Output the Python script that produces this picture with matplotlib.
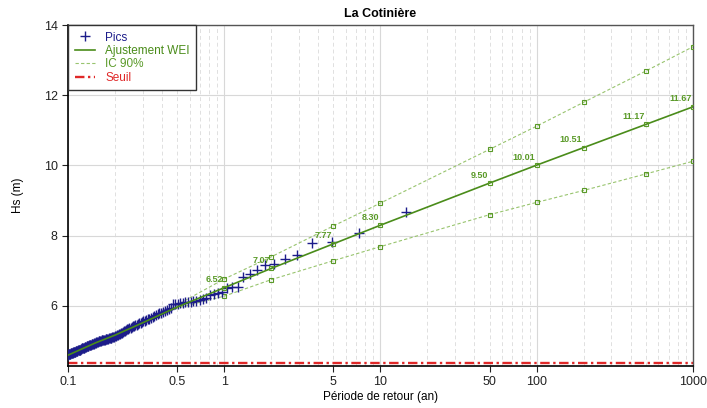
import matplotlib
matplotlib.use("Agg")
import matplotlib.pyplot as plt
from matplotlib.ticker import FixedLocator, NullFormatter, FixedFormatter
import numpy as np

plt.rcParams['font.family'] = ['Liberation Sans', 'DejaVu Sans']

# ---- data ----
n_years = 14.6
pics = [8.68, 8.09, 7.81, 7.80, 7.44, 7.34, 7.19, 7.17, 7.02, 6.90,
        6.83, 6.55, 6.55, 6.50, 6.41, 6.37, 6.34, 6.31, 6.22, 6.20,
        6.17, 6.15, 6.13, 6.12, 6.11, 6.10, 6.09, 6.08, 6.07, 6.06,
        6.05, 5.94, 5.91, 5.89, 5.87, 5.84, 5.81, 5.79, 5.76, 5.74,
        5.72, 5.70, 5.67, 5.64, 5.62, 5.60, 5.58, 5.56, 5.54, 5.52,
        5.51, 5.49, 5.47, 5.45, 5.43, 5.42, 5.40, 5.38, 5.37, 5.35,
        5.34, 5.32, 5.30, 5.28, 5.26, 5.24, 5.22, 5.20, 5.19, 5.17,
        5.16, 5.15, 5.14, 5.13, 5.12, 5.11, 5.10, 5.10, 5.09, 5.08,
        5.07, 5.07, 5.06, 5.05, 5.04, 5.04, 5.03, 5.02, 5.02, 5.01,
        5.00, 5.00, 4.99, 4.98, 4.98, 4.97, 4.96, 4.95, 4.94, 4.93,
        4.92, 4.92, 4.91, 4.90, 4.89, 4.89, 4.88, 4.87, 4.86, 4.86,
        4.85, 4.84, 4.83, 4.82, 4.81, 4.81, 4.80, 4.79, 4.79, 4.78,
        4.77, 4.76, 4.76, 4.75, 4.74, 4.74, 4.73, 4.72, 4.71, 4.71,
        4.70, 4.70, 4.69, 4.68, 4.68, 4.67, 4.66, 4.66, 4.65, 4.65,
        4.64, 4.64, 4.63, 4.63, 4.62, 4.61]
ranks = np.arange(1, len(pics) + 1)
pics_T = n_years / ranks

fit_T = [0.1, 0.15, 0.2, 0.3, 0.5, 1, 2, 5, 10, 50, 100, 200, 500, 1000]
fit_val = [4.60, 4.95, 5.17, 5.52, 5.97, 6.52, 7.07, 7.77, 8.30, 9.50, 10.01, 10.51, 11.17, 11.67]

mark_T = [1, 2, 5, 10, 50, 100, 200, 500, 1000]
mark_val = [6.52, 7.07, 7.77, 8.30, 9.50, 10.01, 10.51, 11.17, 11.67]

ci_T = [0.45, 1, 2, 5, 10, 50, 100, 200, 500, 1000]
ci_up = [5.92, 6.77, 7.40, 8.28, 8.93, 10.46, 11.12, 11.80, 12.69, 13.38]
ci_lo = [5.89, 6.28, 6.75, 7.29, 7.69, 8.60, 8.95, 9.29, 9.76, 10.12]

seuil = 4.37

xticks = [0.1, 0.5, 1, 5, 10, 50, 100, 1000]
xtick_labels = ['0.1', '0.5', '1', '5', '10', '50', '100', '1000']
yticks = [6, 8, 10, 12, 14]

# ---- colours ----
c_pics = '#1c1c8a'
c_fit = '#4a8c1a'
c_ci = '#98c46e'
c_lab = '#5a9a28'
c_seuil = '#e02828'

fig = plt.figure(figsize=(7.07, 4.08), dpi=100)
ax = fig.add_axes([0.0962, 0.1037, 0.8838, 0.835])
ax.set_xscale('log')
ax.set_xlim(0.1, 1000)
ax.set_ylim(4.3, 14)

# grid
minor = []
for d in [0.1, 1, 10, 100]:
    for k in range(2, 10):
        minor.append(d * k)
for xv in minor:
    ax.axvline(xv, color='#e0e0e0', lw=0.7, ls=(0, (4, 3)), zorder=0)
for xv in [0.1, 1, 10, 100, 1000]:
    ax.axvline(xv, color='#d8d8d8', lw=0.8, zorder=0)
for yv in yticks:
    ax.axhline(yv, color='#d8d8d8', lw=0.8, zorder=0)

ax.axhline(seuil, color=c_seuil, lw=1.7, ls=(0, (4, 1.5, 1, 1.5)), zorder=2, label='Seuil')

ax.plot(ci_T, ci_up, color=c_ci, lw=0.8, ls=(0, (3, 2)), zorder=3, label='IC 90%')
ax.plot(ci_T[1:], ci_lo[1:], ls='none', marker='s', ms=3.5, mfc='none', mec=c_lab, mew=0.8, zorder=4)
ax.plot(ci_T, ci_lo, color=c_ci, lw=0.8, ls=(0, (3, 2)), zorder=3)
ax.plot(ci_T[1:], ci_up[1:], ls='none', marker='s', ms=3.5, mfc='none', mec=c_lab, mew=0.8, zorder=4)

ax.plot(pics_T, pics, ls='none', marker='+', ms=7, mew=1.0, color=c_pics, zorder=5, label='Pics')
ax.plot(fit_T, fit_val, color=c_fit, lw=1.2, zorder=6, label='Ajustement WEI')
ax.plot(mark_T, mark_val, ls='none', marker='s', ms=3.5, mfc='none', mec=c_lab, mew=0.8, zorder=7)

for t, v in zip(mark_T, mark_val):
    ax.annotate(f'{v:.2f}', (t, v), xytext=(-1, 2.5), textcoords='offset points',
                ha='right', va='bottom', fontsize=6.5, color=c_lab, fontweight='bold', zorder=8)

ax.xaxis.set_major_locator(FixedLocator(xticks))
ax.xaxis.set_major_formatter(FixedFormatter(xtick_labels))
ax.xaxis.set_minor_locator(FixedLocator([]))
ax.xaxis.set_minor_formatter(NullFormatter())
ax.set_yticks(yticks)
ax.tick_params(axis='both', labelsize=9, length=4, width=0.8, direction='out', colors='#222222')

for s in ['left', 'bottom']:
    ax.spines[s].set_color('black')
    ax.spines[s].set_linewidth(1.2)
for s in ['top', 'right']:
    ax.spines[s].set_color('#555555')
    ax.spines[s].set_linewidth(1.0)

ax.set_title('La Cotinière', fontsize=9, fontweight='bold', pad=6)
ax.set_xlabel('Période de retour (an)', fontsize=8.5, labelpad=2)
ax.set_ylabel('Hs (m)', fontsize=8.5, labelpad=14)

handles, labels = ax.get_legend_handles_labels()
order = ['Pics', 'Ajustement WEI', 'IC 90%', 'Seuil']
hl = {l: h for h, l in zip(handles, labels)}
leg = ax.legend([hl[o] for o in order], order, loc='upper left', fontsize=8.5,
                frameon=True, fancybox=False, framealpha=1, edgecolor='#333333',
                borderaxespad=0, handlelength=1.7, handletextpad=0.9,
                labelspacing=0.12, borderpad=0.55)
leg.get_frame().set_linewidth(1.0)
for txt, col in zip(leg.get_texts(), [c_pics, c_fit, c_lab, c_seuil]):
    txt.set_color(col)

fig.savefig('out.png', dpi=100)
